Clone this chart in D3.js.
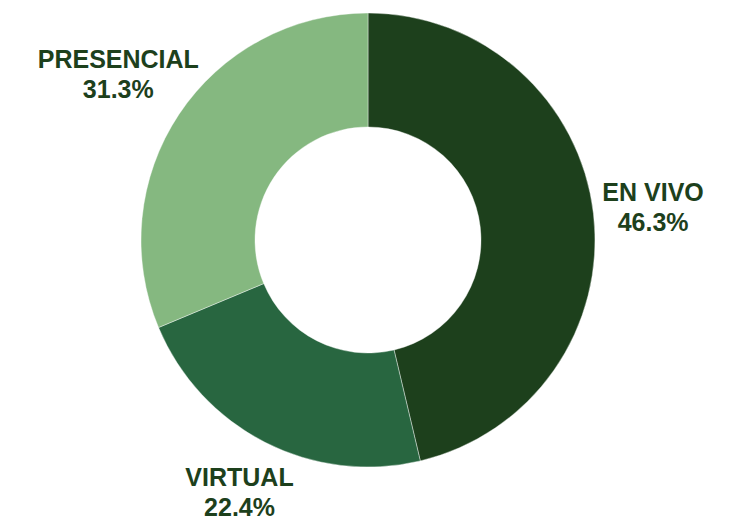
<!DOCTYPE html>
<html>
<head>
<meta charset="utf-8">
<script src="https://cdn.jsdelivr.net/npm/d3@7"></script>
<style>
  body { margin: 0; background: #fff; }
  .lbl { font-family: "Liberation Sans", Arial, sans-serif; font-weight: bold; font-size: 25px; fill: #1d401c; }
</style>
</head>
<body>
<svg id="chart"></svg>
<script>
// DATA
const categories = ["EN VIVO", "VIRTUAL", "PRESENCIAL"];
const shares = [46.3, 22.4, 31.3];
const colors = ["#1d401c", "#286640", "#85b880"];

// SET VARIABLES
const width = 751, height = 521;
const cx = 368, cy = 240;
const outerR = 227, innerR = 113;
const labelRadii = [287, 283, 300]; // distance of each label block from centre

const svg = d3.select('#chart')
  .attr('width', width)
  .attr('height', height);

const data = categories.map((c, i) => ({ name: c, value: shares[i], color: colors[i] }));

const pie = d3.pie().sort(null).value(d => d.value);
const arc = d3.arc().innerRadius(innerR).outerRadius(outerR);

const g = svg.append('g').attr('transform', `translate(${cx}, ${cy})`);

const slices = pie(data);

g.selectAll('path')
  .data(slices)
  .enter()
  .append('path')
    .attr('d', arc)
    .attr('fill', d => d.data.color)
    .attr('stroke', '#fff')
    .attr('stroke-width', 0.4);

const labels = g.selectAll('text')
  .data(slices)
  .enter()
  .append('text')
    .attr('class', 'lbl')
    .attr('text-anchor', 'middle')
    .attr('transform', (d, i) => {
      const r = labelRadii[i];
      return `translate(${d3.arc().innerRadius(r).outerRadius(r).centroid(d)})`;
    });

labels.append('tspan')
  .attr('x', 0)
  .attr('dy', -6)
  .text(d => d.data.name);
labels.append('tspan')
  .attr('x', 0)
  .attr('dy', 30)
  .text(d => d.data.value.toFixed(1) + '%');
</script>
</body>
</html>
